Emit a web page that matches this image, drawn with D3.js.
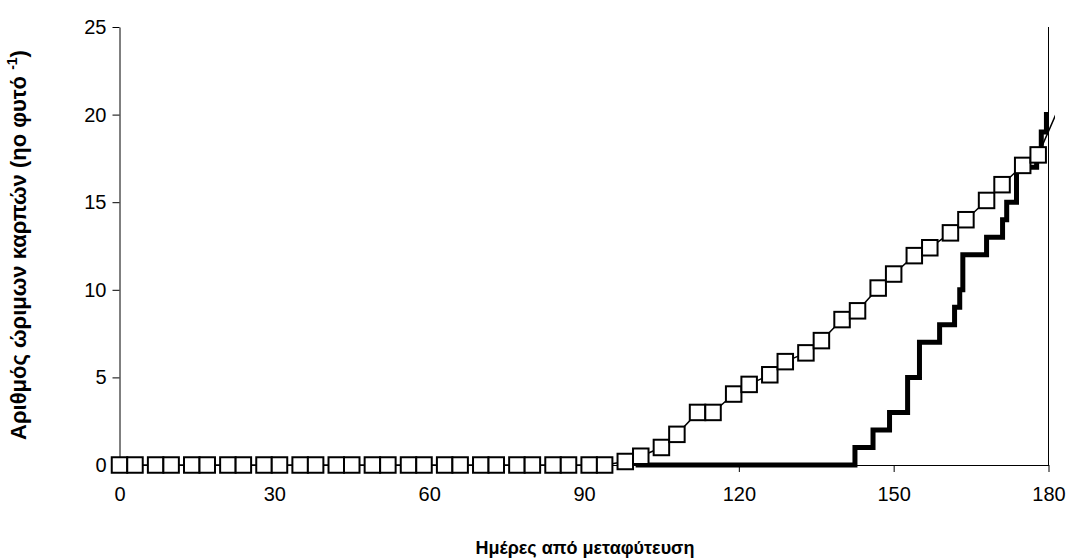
<!DOCTYPE html>
<html>
<head>
<meta charset="utf-8">
<script src="https://cdn.jsdelivr.net/npm/d3@7"></script>
<style>
  body { margin: 0; background: #fff; }
  svg { display: block; }
  .tick text { font-family: "Liberation Sans", Arial, sans-serif; font-size: 20px; fill: #000; }
  .title { font-family: "Liberation Sans", Arial, sans-serif; font-weight: bold; }
</style>
</head>
<body>
<svg id="chart" width="1072" height="560"></svg>
<script>
// open squares: measured twice a week
var sqDays = [0, 3, 7, 10, 14, 17, 21, 24, 28, 31, 35, 38, 42, 45, 49, 52, 56, 59, 63, 66,
  70, 73, 77, 80, 84, 87, 91, 94, 98, 101, 105, 108, 112, 115, 119, 122, 126, 129, 133, 136,
  140, 143, 147, 150, 154, 157, 161, 164, 168, 171, 175, 178, 182];
var sqValues = [0, 0, 0, 0, 0, 0, 0, 0, 0, 0, 0, 0, 0, 0, 0, 0, 0, 0, 0, 0,
  0, 0, 0, 0, 0, 0, 0, 0, 0.2, 0.5, 1.0, 1.75, 3.0, 3.0, 4.05, 4.6, 5.15, 5.9, 6.4, 7.1,
  8.3, 8.8, 10.1, 10.9, 11.95, 12.4, 13.25, 14.0, 15.1, 16.0, 17.1, 17.7, 20.4];

// thick line: cumulative count, value holds from that day on
var stepDays = [100, 142.5, 146, 149.2, 152.7, 155, 158.9, 161.8, 162.8, 163.4, 168, 171.1, 171.9, 173.8, 177.7, 178.6, 179.6, 180];
var stepValues = [0, 1, 2, 3, 5, 7, 8, 9, 10, 12, 13, 14, 15, 17, 18, 19, 20, 20];

var xTicks = [0, 30, 60, 90, 120, 150, 180];
var yTicks = [0, 5, 10, 15, 20, 25];

var svg = d3.select('#chart');
var x = d3.scaleLinear().domain([0, 180]).range([119.5, 1048.5]);
var y = d3.scaleLinear().domain([0, 25]).range([465, 27]);

svg.append('defs').append('clipPath').attr('id', 'clip')
  .append('rect').attr('x', 100).attr('y', 0).attr('width', 955).attr('height', 560);

// axes
svg.append('g').attr('transform', 'translate(0,465)')
  .call(d3.axisBottom(x).tickValues(xTicks).tickSize(7).tickPadding(15).tickSizeOuter(0));
svg.append('g').attr('transform', 'translate(119.5,0)')
  .call(d3.axisLeft(y).tickValues(yTicks).tickSize(7).tickPadding(6).tickSizeOuter(0));
svg.selectAll('.domain, .tick line').attr('stroke', '#000').attr('stroke-width', 1);

// right border of the plot area
svg.append('line')
  .attr('x1', x(180)).attr('x2', x(180)).attr('y1', y(25)).attr('y2', y(0))
  .attr('stroke', '#000').attr('stroke-width', 1);

var thick = stepDays.map(function(d, i){ return [d, stepValues[i]]; });
var squares = sqDays.map(function(d, i){ return [d, sqValues[i]]; });

var plot = svg.append('g').attr('clip-path', 'url(#clip)');

plot.append('path').datum(thick)
  .attr('fill', 'none').attr('stroke', '#000').attr('stroke-width', 5)
  .attr('d', d3.line().curve(d3.curveStepAfter)
    .x(function(d){ return x(d[0]); }).y(function(d){ return y(d[1]); }));

plot.append('path').datum(squares)
  .attr('fill', 'none').attr('stroke', '#000').attr('stroke-width', 1.5)
  .attr('d', d3.line()
    .x(function(d){ return x(d[0]); }).y(function(d){ return y(d[1]); }));

var s = 15.5;
plot.selectAll('rect.sq').data(squares.filter(function(d){ return d[0] <= 180; }))
  .enter().append('rect').attr('class', 'sq')
  .attr('x', function(d){ return x(d[0]) - s / 2; })
  .attr('y', function(d){ return y(d[1]) - s / 2; })
  .attr('width', s).attr('height', s)
  .attr('fill', '#fff').attr('stroke', '#000').attr('stroke-width', 2);

// titles
svg.append('text').attr('class', 'title')
  .attr('x', 585).attr('y', 554).attr('text-anchor', 'middle').attr('font-size', '18px')
  .text('Ημέρες από μεταφύτευση');

var yt = svg.append('text').attr('class', 'title').attr('font-size', '22px')
  .attr('transform', 'translate(26,245) rotate(-90)').attr('text-anchor', 'middle');
yt.append('tspan').text('Αριθμός ώριμων καρπών (ηο φυτό ');
yt.append('tspan').attr('font-size', '14px').attr('dy', -9).text('-1');
yt.append('tspan').attr('dy', 9).text(')');
</script>
</body>
</html>
